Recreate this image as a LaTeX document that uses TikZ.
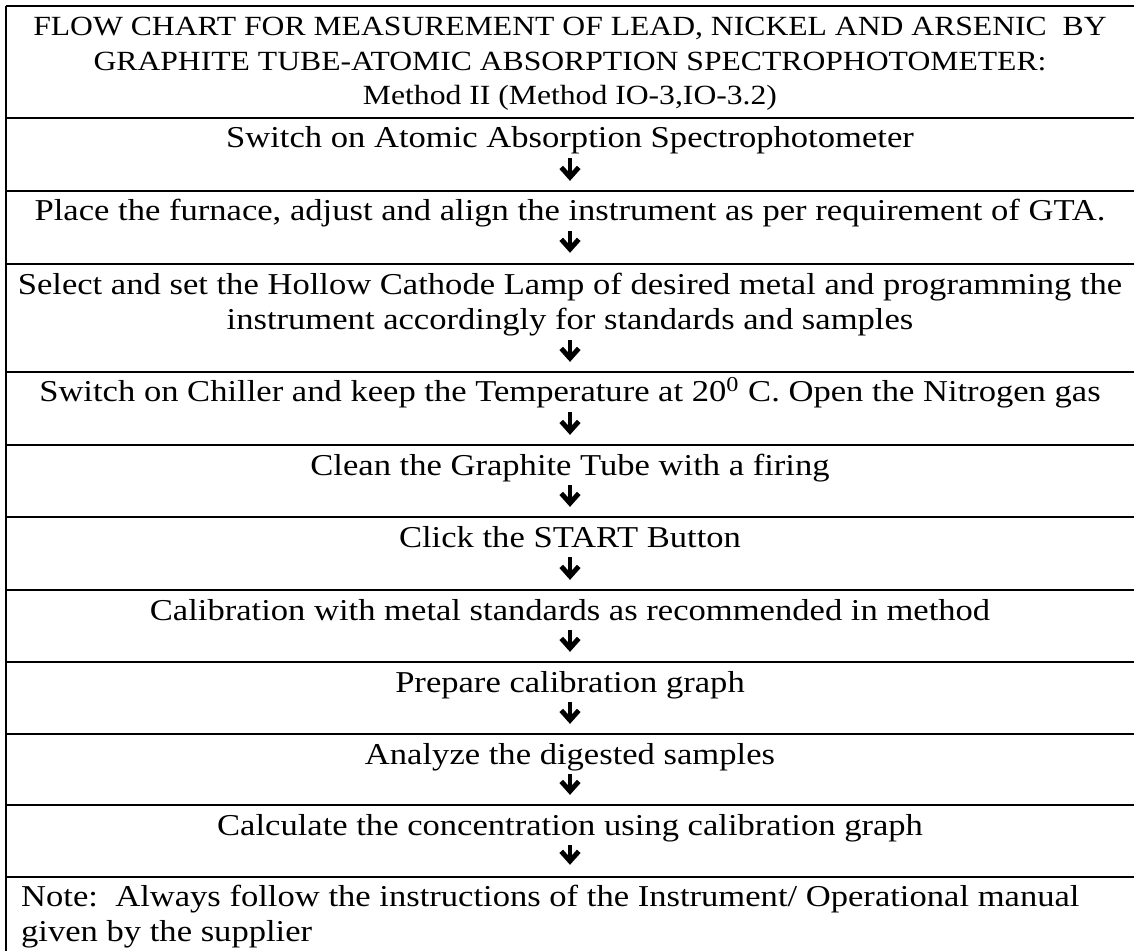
\documentclass[tikz,border=0pt]{standalone}
\usepackage{fontspec}
\setmainfont{Liberation Serif}[FakeStretch=1.14]
\usetikzlibrary{arrows.meta}

\begin{document}
\begin{tikzpicture}[x=0.428571pt, y=-0.428571pt, >={Straight Barb[length=4.2pt, width=7.5pt]}, line width=1pt]
        % Estilos para los pasos, el encabezado y las flechas
        \tikzstyle{stepbox} = [inner sep=0pt, anchor=base, font=\fontsize{13}{14.8}\selectfont, text height=8.5pt, text depth=2.5pt]
        \tikzstyle{head} = [inner sep=0pt, anchor=base, align=center, font=\fontsize{13}{14.8}\selectfont]
        \tikzstyle{flow} = [->, line width=2.1pt, shorten <=1.4pt, shorten >=8.2pt]

        \useasboundingbox (0,0) rectangle (1134,951);

        % Marco de la tabla
        \draw (6,6) -- (6,960);
        \foreach \y in {6,118,191,264,372,445,517,590,662,734,805,877}
          \draw (6,\y) -- (1140,\y);

        % Definición de nodos (los de varias líneas van por la base de la última)
        \node [head, font=\fontsize{11.9}{14.8}\selectfont] (title) at (570,105) {FLOW CHART FOR MEASUREMENT OF LEAD, NICKEL AND ARSENIC\ \ BY\\GRAPHITE TUBE-ATOMIC ABSORPTION SPECTROPHOTOMETER:\\Method II (Method IO-3,IO-3.2)};
        \node [stepbox] (switchAAS) at (570,148) {Switch on Atomic Absorption Spectrophotometer};
        \node [stepbox] (placeFurnace) at (570,221) {Place the furnace, adjust and align the instrument as per requirement of GTA.};
        \node [head] (selectLamp) at (570,329) {Select and set the Hollow Cathode Lamp of desired metal and programming the\\instrument accordingly for standards and samples};
        \node [stepbox] (switchChiller) at (570,402) {Switch on Chiller and keep the Temperature at 20\textsuperscript{0} C. Open the Nitrogen gas};
        \node [stepbox] (cleanTube) at (570,475) {Clean the Graphite Tube with a firing};
        \node [stepbox] (clickStart) at (570,547) {Click the START Button};
        \node [stepbox] (calibration) at (570,620) {Calibration with metal standards as recommended in method};
        \node [stepbox] (prepareGraph) at (570,692) {Prepare calibration graph};
        \node [stepbox] (analyze) at (570,764) {Analyze the digested samples};
        \node [stepbox] (calculate) at (570,835) {Calculate the concentration using calibration graph};
        \node [head, anchor=base west, align=left] (note) at (20,941) {Note:\ \ Always follow the instructions of the Instrument/ Operational manual\\given by the supplier};

        % Conexiones entre nodos
        \draw [flow] (switchAAS) -- (placeFurnace);
        \draw [flow] (placeFurnace) -- (selectLamp);
        \draw [flow] (selectLamp) -- (switchChiller);
        \draw [flow] (switchChiller) -- (cleanTube);
        \draw [flow] (cleanTube) -- (clickStart);
        \draw [flow] (clickStart) -- (calibration);
        \draw [flow] (calibration) -- (prepareGraph);
        \draw [flow] (prepareGraph) -- (analyze);
        \draw [flow] (analyze) -- (calculate);
        \draw [flow] (calculate.south) -- (calculate.south |- note.north);
\end{tikzpicture}
\end{document}
